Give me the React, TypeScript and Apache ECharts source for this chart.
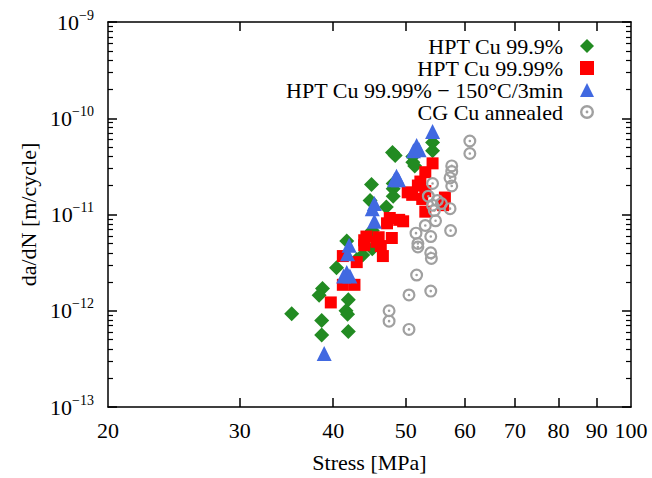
import React, { useEffect, useRef } from "react";
import * as echarts from "echarts";

const xTickValues = [30, 40, 50, 60, 70, 80, 90];
const xLabelValues = [20, 30, 40, 50, 60, 70, 80, 90, 100];
const yDecades = [1e-13, 1e-12, 1e-11, 1e-10, 1e-9];
const yMinorMultipliers = [2, 3, 4, 5, 6, 7, 8, 9];

const seriesNames = [
  "HPT Cu 99.9%",
  "HPT Cu 99.99%",
  "HPT Cu 99.99% \u2212 150\u00b0C/3min",
  "CG Cu annealed",
];

const greenData: [number, number][] = [
  [35.2, 9.3e-13], [38.7, 1.7e-12], [38.3, 1.45e-12], [38.6, 7.9e-13], [38.6, 5.6e-13],
  [41.7, 5.3e-12], [40.4, 2.8e-12], [41.9, 1.3e-12], [41.6, 1.0e-12], [41.8, 9.2e-13],
  [41.9, 6.1e-13], [43.8, 3.8e-12], [45.1, 4.4e-12], [45.1, 6.8e-12], [45.0, 2.05e-11],
  [44.8, 1.4e-11], [47.1, 1.2e-11], [48.1, 1.85e-11], [48.1, 1.55e-11], [48.1, 2.1e-11],
  [48.0, 4.4e-11], [48.4, 4.1e-11], [51.1, 4.0e-11], [51.1, 3.5e-11], [51.4, 3.2e-11],
  [54.3, 5.6e-11], [54.3, 4.6e-11], [43.0, 3.4e-12],
];

const redData: [number, number][] = [
  [39.7, 1.22e-12], [41.2, 1.86e-12], [42.7, 1.86e-12], [41.2, 3.7e-12], [43.0, 3.2e-12],
  [44.0, 5.4e-12], [44.0, 4.8e-12], [45.7, 5.2e-12], [44.3, 5.9e-12], [46.0, 5.8e-12],
  [47.9, 5.7e-12], [46.6, 3.7e-12], [46.3, 4.7e-12], [47.2, 8.1e-12], [47.6, 9.2e-12],
  [49.0, 8.8e-12], [49.6, 8.5e-12], [50.3, 1.7e-11], [51.0, 1.6e-11], [52.3, 2.2e-11],
  [53.1, 2.75e-11], [54.3, 3.4e-11], [53.1, 1.75e-11], [52.6, 1.45e-11], [53.1, 1.07e-11],
  [56.4, 1.5e-11], [56.1, 1.25e-11], [51.9, 2.0e-11],
];

const blueData: [number, number][] = [
  [38.9, 3.6e-13], [42.0, 4.8e-12], [41.8, 3.9e-12], [41.7, 2.5e-12], [41.3, 2.3e-12],
  [42.1, 2.3e-12], [45.4, 8.5e-12], [45.4, 1.3e-11], [45.1, 1.15e-11], [48.6, 2.5e-11],
  [48.3, 2.3e-11], [48.9, 2.3e-11], [54.3, 7.3e-11], [51.7, 5.2e-11], [51.2, 4.6e-11],
  [52.1, 4.7e-11],
];

const grayData: [number, number][] = [
  [60.9, 5.8e-11], [60.9, 4.3e-11], [57.6, 3.2e-11], [57.6, 2.8e-11], [57.3, 2.4e-11],
  [57.6, 1.98e-11], [54.3, 2.1e-11], [53.6, 1.55e-11], [55.8, 1.3e-11], [54.3, 1.25e-11],
  [57.3, 1.15e-11], [54.6, 1.1e-11], [54.8, 8.6e-12], [53.1, 7.7e-12], [57.4, 6.8e-12],
  [51.6, 6.4e-12], [54.0, 5.9e-12], [51.9, 5.0e-12], [51.9, 4.6e-12], [54.0, 4.0e-12],
  [54.1, 3.5e-12], [51.7, 2.35e-12], [54.0, 1.6e-12], [50.5, 1.46e-12], [50.5, 6.4e-13],
  [47.5, 1.0e-12], [47.5, 7.8e-13], [55.1, 1.4e-11],
];

const FONT = "Liberation Serif";
const ringPath =
  "path://M0,-10A10,10 0 1,1 0,10A10,10 0 1,1 0,-10ZM0,-6.6A6.6,6.6 0 1,0 0,6.6A6.6,6.6 0 1,0 0,-6.6ZM0,-2A2,2 0 1,1 0,2A2,2 0 1,1 0,-2Z";

function supLabel(v: number) {
  const e = Math.round(Math.log10(v));
  const s = e < 0 ? "\u2212" + Math.abs(e) : String(e);
  return `{b|10}{s|${s}}`;
}

export default function App() {
  const ref = useRef<HTMLDivElement>(null);
  useEffect(() => {
    if (!ref.current) return;
    document.body.style.margin = "0";
    const chart = echarts.init(ref.current, undefined, { renderer: "svg" });
    const minorVals: number[] = [];
    for (let i = 0; i < yDecades.length - 1; i++) {
      for (const m of yMinorMultipliers) minorVals.push(m * yDecades[i]);
    }
    const lineStyle = { color: "#000", width: 1.5 };
    const majorTick = { show: true, inside: true, length: 9, lineStyle: { color: "#000", width: 1.5 } };
    const minorTickStyle = { show: true, inside: true, length: 5, lineStyle: { color: "#000", width: 1.2 } };
    const baseX = {
      type: "log" as const,
      min: 20,
      max: 100,
      splitLine: { show: false },
      minorTick: { show: false },
      axisLine: { show: true, lineStyle },
    };
    const baseY = {
      type: "log" as const,
      min: 1e-13,
      max: 1e-9,
      splitLine: { show: false },
      minorTick: { show: false },
    };
    chart.setOption({
      animation: false,
      backgroundColor: "#fff",
      grid: { left: 108, right: 21, top: 22, bottom: 67, containLabel: false },
      legend: {
        orient: "vertical",
        right: 53,
        top: 30,
        align: "right",
        itemGap: 0,
        itemWidth: 14,
        itemHeight: 14,
        textStyle: { fontFamily: FONT, fontSize: 22, lineHeight: 20, color: "#000", padding: [0, 12, 0, 0] },
        data: seriesNames,
      },
      xAxis: [
        {
          ...baseX,
          position: "bottom",
          name: "Stress [MPa]",
          nameLocation: "middle",
          nameGap: 44,
          nameTextStyle: { fontFamily: FONT, fontSize: 22, color: "#000" },
          axisTick: { ...majorTick, customValues: xTickValues },
          axisLabel: {
            show: true,
            margin: 12,
            fontFamily: FONT,
            fontSize: 22,
            color: "#000",
            customValues: xLabelValues,
            formatter: (v: number) => String(Math.round(v)),
          },
        },
        {
          ...baseX,
          position: "top",
          axisTick: { ...majorTick, customValues: xTickValues },
          axisLabel: { show: false },
        },
      ],
      yAxis: [
        {
          ...baseY,
          position: "left",
          name: "da/dN [m/cycle]",
          nameLocation: "middle",
          nameGap: 64,
          nameTextStyle: { fontFamily: FONT, fontSize: 22, color: "#000" },
          axisLine: { show: true, lineStyle },
          axisTick: { ...majorTick, customValues: yDecades },
          axisLabel: {
            show: true,
            margin: 14,
            customValues: yDecades,
            formatter: supLabel,
            rich: {
              b: { fontFamily: FONT, fontSize: 22, color: "#000" },
              s: { fontFamily: FONT, fontSize: 14, color: "#000", padding: [0, 0, 14, 0] },
            },
          },
        },
        {
          ...baseY,
          position: "left",
          axisLine: { show: false },
          axisTick: { ...minorTickStyle, customValues: minorVals },
          axisLabel: { show: false },
        },
        {
          ...baseY,
          position: "right",
          axisLine: { show: true, lineStyle },
          axisTick: { ...majorTick, customValues: yDecades },
          axisLabel: { show: false },
        },
        {
          ...baseY,
          position: "right",
          axisLine: { show: false },
          axisTick: { ...minorTickStyle, customValues: minorVals },
          axisLabel: { show: false },
        },
      ],
      series: [
        {
          name: seriesNames[0],
          type: "scatter",
          symbol: "diamond",
          symbolSize: 15,
          itemStyle: { color: "#228b22", opacity: 1 },
          data: greenData,
        },
        {
          name: seriesNames[1],
          type: "scatter",
          symbol: "rect",
          symbolSize: 12,
          itemStyle: { color: "#ff0000", opacity: 1 },
          data: redData,
        },
        {
          name: seriesNames[2],
          type: "scatter",
          symbol: "triangle",
          symbolSize: 15,
          itemStyle: { color: "#4169e1", opacity: 1 },
          data: blueData,
        },
        {
          name: seriesNames[3],
          type: "scatter",
          symbol: ringPath,
          symbolSize: 13,
          itemStyle: { color: "#a0a0a0", opacity: 1 },
          data: grayData,
        },
      ],
    });
    return () => chart.dispose();
  }, []);
  return (
    <div
      ref={ref}
      style={{ position: "absolute", left: 0, top: 0, width: 652, height: 478 }}
    />
  );
}
